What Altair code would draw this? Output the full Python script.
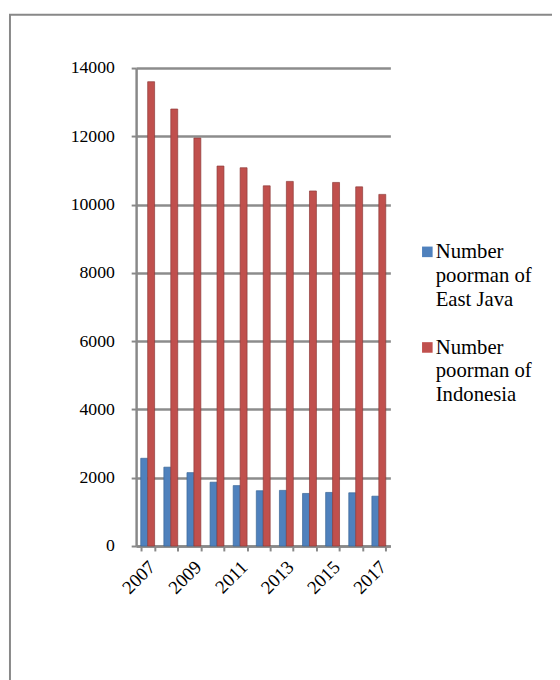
import altair as alt
import pandas as pd

years = [str(y) for y in range(2007, 2018)]
east_java = [2570, 2310, 2150, 1870, 1770, 1620, 1630, 1540, 1570, 1560, 1460]
indonesia = [13600, 12800, 11950, 11130, 11080, 10550, 10680, 10400, 10650, 10520, 10300]
series = ["Number poorman of East Java", "Number poorman of Indonesia"]
legend_lines = [["Number", "poorman of", "East Java"], ["Number", "poorman of", "Indonesia"]]
colors = ["#4F81BD", "#C0504D"]
edge_colors = ["#3B6696", "#8E3B39"]
y_ticks = list(range(0, 14001, 2000))

rows = []
for yr, a, b in zip(years, east_java, indonesia):
    rows.append({"year": yr, "series": series[0], "value": a})
    rows.append({"year": yr, "series": series[1], "value": b})
df = pd.DataFrame(rows)

FONT = "Times New Roman, Liberation Serif, DejaVu Serif, serif"

bars = alt.Chart(df).mark_bar(strokeWidth=0.7).encode(
    x=alt.X("year:N", sort=years,
            scale=alt.Scale(paddingInner=0.4, paddingOuter=0.2),
            axis=alt.Axis(title=None, labelAngle=-45, labelAlign="right", labelBaseline="middle",
                          labelExpr="parseInt(datum.value) % 2 == 1 ? datum.label : ''",
                          labelFont=FONT, labelFontSize=19, labelColor="black",
                          labelPadding=13, labelOffset=4,
                          domainColor="#888888", domainWidth=2.5,
                          tickColor="#888888", tickWidth=2, tickSize=5, tickBand="extent",
                          grid=False)),
    xOffset=alt.XOffset("series:N", sort=series),
    y=alt.Y("value:Q", scale=alt.Scale(domain=[0, 14000]),
            axis=alt.Axis(title=None, values=y_ticks, format="d", grid=True,
                          gridColor="#8C8C8C", gridWidth=2.5,
                          labelFont=FONT, labelFontSize=18, labelColor="black", labelPadding=17,
                          domainColor="#888888", domainWidth=2.5,
                          tickColor="#888888", tickWidth=2, tickSize=5)),
    color=alt.Color("series:N", scale=alt.Scale(domain=series, range=colors), legend=None),
    stroke=alt.Stroke("series:N", scale=alt.Scale(domain=series, range=edge_colors), legend=None),
)

frame = alt.Chart(pd.DataFrame({"a": [0]})).mark_rect(
    color="white", fillOpacity=0, stroke="#888888", strokeWidth=2
).encode(x=alt.value(-128), x2=alt.value(700), y=alt.value(-54), y2=alt.value(800))

layers = [frame, bars]
for i, s in enumerate(series):
    d = pd.DataFrame({"series": [s]})
    layers.append(alt.Chart(d).mark_square(size=115, color=colors[i], opacity=1).encode(
        x=alt.value(295.5), y=alt.value(186.5 + 97 * i)))
    layers.append(alt.Chart(d).mark_text(
        text=legend_lines[i], align="left", baseline="alphabetic", font=FONT,
        fontSize=21, lineHeight=24, color="black"
    ).encode(x=alt.value(304), y=alt.value(193 + 97 * i)))

chart = alt.layer(*layers).properties(
    width=258, height=485, autosize="none",
    padding={"left": 130, "top": 56, "right": 164, "bottom": 131},
).configure_view(stroke=None)

chart.save("out.html", embed_options={"renderer": "svg", "actions": False})
